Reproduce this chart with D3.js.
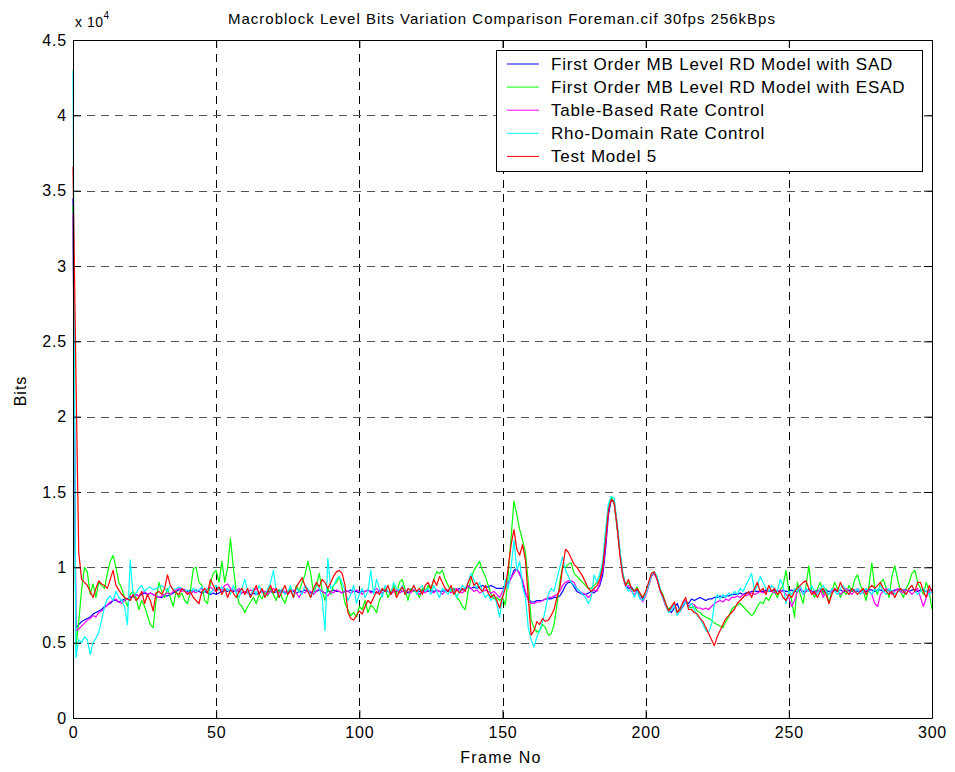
<!DOCTYPE html>
<html>
<head>
<meta charset="utf-8">
<script src="https://cdn.jsdelivr.net/npm/d3@7.9.0/dist/d3.min.js"></script>
<style>
  body { margin: 0; background: #fff; }
  svg { font-family: "Liberation Sans", Arial, sans-serif; }
</style>
</head>
<body>
<svg width="955" height="772"></svg>
<script>
// bits per frame, stored in hundreds of bits (85 = 8500 bits)
const unit = 100;

const sadBits = [
  345, 60, 62, 64, 65, 66, 67, 69, 70, 71,
  72, 74, 75, 76, 78, 78, 77, 78, 79, 79,
  80, 81, 82, 81, 82, 83, 82, 83, 82, 81,
  80, 80, 81, 81, 82, 83, 84, 85, 86, 85,
  84, 85, 84, 85, 84, 83, 84, 83, 82, 83,
  82, 83, 84, 85, 84, 85, 84, 85, 84, 83,
  84, 83, 82, 83, 82, 83, 84, 83, 84, 84,
  83, 84, 85, 84, 83, 84, 85, 84, 83, 84,
  84, 85, 84, 83, 84, 84, 85, 84, 83, 84,
  84, 85, 84, 84, 83, 84, 84, 85, 84, 84,
  83, 84, 84, 85, 84, 84, 83, 84, 85, 84,
  84, 83, 84, 84, 85, 84, 84, 83, 84, 85,
  84, 84, 85, 84, 84, 85, 84, 85, 84, 84,
  85, 84, 85, 86, 85, 86, 85, 86, 87, 86,
  87, 86, 87, 88, 87, 87, 88, 87, 86, 86,
  86, 87, 89, 93, 98, 99, 96, 90, 83, 79,
  77, 77, 78, 78, 78, 79, 79, 79, 80, 80,
  81, 84, 88, 90, 90, 87, 84, 83, 82, 82,
  83, 84, 83, 85, 88, 95, 112, 135, 145, 144,
  128, 110, 95, 88, 86, 87, 84, 85, 82, 79,
  82, 88, 95, 96, 92, 85, 80, 75, 72, 70,
  73, 76, 71, 74, 77, 76, 79, 78, 79, 80,
  79, 78, 79, 79, 80, 80, 81, 80, 81, 81,
  82, 82, 82, 83, 82, 83, 83, 84, 84, 84,
  84, 84, 85, 84, 84, 85, 84, 84, 85, 84,
  84, 85, 84, 84, 85, 84, 84, 85, 84, 84,
  85, 84, 84, 85, 84, 84, 85, 84, 85, 84,
  84, 85, 84, 85, 84, 84, 85, 84, 85, 85,
  84, 85, 85, 84, 85, 85, 84, 85, 85, 84,
  85, 85, 84, 85, 85, 84, 85, 85, 84, 85, 85
];

const esadBits = [
  340, 47, 64, 85, 100, 97, 82, 89, 80, 90,
  88, 86, 96, 104, 108, 100, 90, 86, 80, 74,
  82, 84, 80, 72, 78, 74, 68, 62, 60, 78,
  90, 84, 80, 86, 80, 74, 84, 80, 83, 78,
  76, 84, 99, 100, 90, 88, 78, 76, 90, 96,
  98, 90, 104, 90, 100, 119, 100, 84, 76, 74,
  70, 74, 77, 80, 76, 82, 79, 84, 81, 86,
  82, 78, 85, 80, 76, 82, 86, 80, 88, 84,
  90, 95, 104, 96, 83, 88, 96, 85, 78, 86,
  82, 88, 90, 94, 86, 76, 72, 68, 70, 67,
  74, 72, 78, 70, 75, 73, 70, 78, 82, 86,
  80, 84, 88, 82, 90, 92, 85, 78, 86, 84,
  84, 80, 86, 84, 88, 85, 92, 97, 96, 98,
  92, 88, 84, 86, 80, 78, 74, 72, 84, 92,
  98, 101, 104, 98, 94, 88, 82, 79, 80, 78,
  80, 75, 95, 120, 144, 135, 125, 118, 110, 90,
  65, 60, 57, 58, 62, 60, 55, 56, 62, 75,
  90, 101, 100, 102, 103, 96, 94, 92, 90, 88,
  86, 86, 88, 90, 95, 102, 122, 141, 147, 142,
  126, 110, 96, 88, 90, 86, 84, 87, 82, 80,
  83, 88, 94, 97, 93, 86, 82, 76, 72, 74,
  76, 70, 73, 76, 78, 74, 73, 74, 71, 70,
  68, 67, 66, 65, 63, 62, 61, 60, 64, 67,
  72, 74, 75, 76, 74, 72, 70, 68, 70, 74,
  77, 76, 80, 78, 82, 84, 80, 85, 88, 98,
  84, 78, 67, 90, 82, 76, 88, 101, 84, 80,
  86, 90, 82, 86, 76, 84, 90, 86, 80, 84,
  82, 88, 84, 92, 95, 88, 84, 78, 88, 103,
  86, 82, 90, 92, 86, 80, 94, 101, 92, 84,
  80, 86, 90, 96, 98, 90, 86, 82, 90, 84, 72
];

const tableBits = [
  335, 58, 59, 61, 63, 65, 66, 68, 67, 70,
  71, 73, 75, 77, 78, 79, 77, 76, 78, 79,
  81, 80, 82, 81, 83, 84, 82, 83, 82, 81,
  80, 81, 82, 83, 82, 84, 85, 86, 84, 85,
  83, 82, 84, 83, 85, 86, 84, 86, 87, 85,
  84, 86, 85, 88, 89, 86, 85, 84, 86, 83,
  84, 83, 85, 84, 86, 83, 85, 84, 82, 84,
  86, 84, 83, 85, 84, 82, 84, 85, 83, 80,
  84, 83, 85, 84, 82, 84, 86, 84, 83, 81,
  84, 83, 85, 84, 83, 85, 84, 83, 84, 85,
  84, 82, 84, 85, 83, 84, 86, 84, 83, 85,
  84, 82, 84, 85, 83, 84, 85, 84, 83, 85,
  84, 82, 84, 83, 85, 84, 83, 85, 84, 82,
  84, 85, 83, 84, 86, 84, 83, 85, 88, 86,
  84, 85, 83, 84, 85, 84, 83, 84, 82, 80,
  84, 87, 90, 93, 96, 99, 95, 92, 84, 78,
  76, 76, 77, 77, 78, 79, 80, 80, 81, 82,
  84, 88, 90, 91, 91, 90, 86, 84, 83, 82,
  80, 82, 85, 84, 90, 98, 115, 138, 145, 143,
  128, 110, 95, 87, 88, 84, 82, 84, 80, 77,
  81, 87, 94, 96, 92, 85, 80, 74, 71, 73,
  76, 70, 72, 76, 78, 74, 76, 75, 73, 73,
  72, 73, 72, 74, 76, 77, 78, 77, 79, 78,
  80, 80, 81, 80, 82, 81, 82, 83, 82, 83,
  84, 83, 84, 85, 84, 83, 84, 85, 84, 82,
  80, 74, 78, 84, 86, 82, 84, 86, 84, 82,
  84, 86, 80, 84, 82, 84, 86, 84, 82, 84,
  86, 84, 82, 84, 86, 84, 83, 85, 84, 82,
  76, 74, 82, 84, 86, 84, 82, 84, 86, 84,
  83, 85, 84, 82, 84, 86, 80, 74, 80, 84, 83
];

const rhoBits = [
  430, 40, 52, 50, 54, 52, 42, 50, 53, 57,
  65, 74, 79, 81, 78, 84, 80, 78, 74, 62,
  105, 80, 83, 86, 88, 84, 86, 87, 85, 86,
  87, 88, 86, 84, 88, 85, 86, 87, 86, 84,
  85, 83, 86, 84, 85, 87, 84, 86, 83, 85,
  88, 85, 87, 84, 86, 82, 88, 83, 80, 86,
  92, 84, 80, 86, 82, 88, 84, 80, 86, 90,
  98, 84, 80, 86, 82, 84, 88, 80, 86, 84,
  82, 88, 86, 80, 84, 90, 86, 80, 58, 106,
  86, 88, 92, 94, 90, 84, 78, 82, 88, 76,
  82, 86, 80, 84, 98, 82, 92, 86, 80, 88,
  84, 82, 90, 86, 84, 88, 82, 86, 84, 88,
  82, 86, 88, 84, 86, 82, 88, 84, 80, 86,
  84, 82, 86, 84, 80, 84, 88, 86, 90, 96,
  92, 86, 90, 84, 80, 82, 78, 82, 76, 67,
  80, 92, 86, 100, 118, 98, 104, 87, 80, 60,
  52, 47, 54, 58, 64, 72, 82, 86, 84, 92,
  100, 107, 98, 94, 90, 88, 86, 84, 82, 80,
  76, 80, 95, 90, 96, 104, 125, 142, 147, 146,
  130, 112, 96, 88, 84, 86, 80, 84, 79, 78,
  82, 88, 95, 97, 94, 86, 80, 75, 70, 72,
  75, 68, 71, 75, 77, 73, 76, 72, 68, 66,
  62, 58, 57, 62, 76, 82, 79, 82, 80, 83,
  81, 84, 82, 86, 84, 88, 92, 96, 84, 88,
  94, 90, 86, 84, 88, 86, 84, 92, 88, 76,
  84, 82, 86, 84, 88, 82, 86, 84, 88, 84,
  82, 86, 88, 84, 82, 86, 84, 82, 86, 88,
  84, 82, 86, 84, 86, 82, 84, 86, 84, 82,
  86, 84, 88, 84, 82, 86, 84, 82, 84, 86,
  84, 82, 86, 88, 84, 82, 84, 86, 84, 82, 84
];

const tm5Bits = [
  366, 230, 110, 92, 90, 88, 84, 80, 86, 91,
  89, 88, 86, 92, 98, 88, 85, 82, 80, 79,
  78, 82, 78, 80, 84, 76, 82, 78, 71, 83,
  84, 82, 86, 95, 88, 85, 83, 82, 86, 84,
  82, 84, 80, 78, 76, 84, 86, 83, 92, 88,
  84, 87, 82, 86, 80, 85, 83, 80, 84, 86,
  82, 86, 80, 84, 88, 82, 86, 80, 84, 88,
  83, 86, 80, 84, 88, 82, 85, 80, 87, 90,
  93, 88, 84, 80, 86, 90, 87, 92, 90, 86,
  90, 94, 97, 98, 96, 88, 70, 66, 65, 68,
  71, 69, 74, 78, 76, 80, 84, 82, 86, 84,
  88, 82, 86, 80, 84, 87, 82, 86, 84, 88,
  84, 86, 82, 88, 90, 86, 92, 88, 94, 90,
  86, 84, 88, 82, 85, 83, 86, 84, 90, 94,
  88, 90, 86, 84, 88, 83, 80, 82, 78, 73,
  80, 86, 100, 115, 125, 112, 108, 115, 105, 80,
  55, 58, 64, 62, 66, 64, 65, 68, 72, 80,
  86, 100, 112, 110, 106, 102, 100, 97, 94, 90,
  86, 84, 86, 88, 92, 100, 118, 138, 145, 143,
  128, 108, 94, 88, 92, 86, 84, 86, 83, 80,
  84, 90, 96, 97, 92, 85, 81, 76, 71, 74,
  77, 70, 72, 77, 80, 72, 72, 70, 69, 66,
  64, 60, 56, 52, 48, 54, 58, 62, 66, 68,
  70, 72, 76, 78, 80, 82, 84, 80, 86, 90,
  84, 86, 82, 88, 84, 86, 82, 84, 80, 78,
  82, 80, 84, 86, 88, 90, 91, 86, 82, 84,
  80, 84, 86, 82, 76, 82, 86, 84, 90, 86,
  84, 82, 86, 84, 82, 84, 86, 82, 86, 88,
  86, 88, 90, 86, 84, 82, 84, 80, 84, 86,
  84, 82, 86, 88, 84, 90, 90, 84, 80, 88, 84
];

const seriesNames = [
  'First Order MB Level RD Model with SAD',
  'First Order MB Level RD Model with ESAD',
  'Table-Based Rate Control',
  'Rho-Domain Rate Control',
  'Test Model 5'
];
const seriesColors = ['#0000ff', '#00ff00', '#ff00ff', '#00ffff', '#ff0000'];
const seriesData = [sadBits, esadBits, tableBits, rhoBits, tm5Bits];

const xTicks = [0, 50, 100, 150, 200, 250, 300];
const yTicks = [0, 5000, 10000, 15000, 20000, 25000, 30000, 35000, 40000, 45000];

const plotLeft = 73, plotRight = 932, plotTop = 40, plotBottom = 718;

let svg = d3.select('svg');
let x = d3.scaleLinear().domain([0, 300]).range([plotLeft, plotRight]);
let y = d3.scaleLinear().domain([0, 45000]).range([plotBottom, plotTop]);

// grid
let grid = svg.append('g')
  .attr('stroke', '#000')
  .attr('stroke-width', 1)
  .attr('stroke-dasharray', '8,6');
xTicks.slice(1, -1).forEach((t) => {
  grid.append('line')
    .attr('x1', Math.round(x(t)) + 0.5).attr('x2', Math.round(x(t)) + 0.5)
    .attr('y1', plotTop).attr('y2', plotBottom);
});
yTicks.slice(1, -1).forEach((t) => {
  grid.append('line')
    .attr('x1', plotLeft).attr('x2', plotRight)
    .attr('y1', Math.round(y(t)) + 0.5).attr('y2', Math.round(y(t)) + 0.5)
    .attr('stroke', '#555');
});

// lines
let line = d3.line()
  .x((d, i) => x(i))
  .y((d) => y(d * unit));

seriesData.forEach((vals, i) => {
  svg.append('path')
    .datum(vals)
    .attr('d', line)
    .attr('fill', 'none')
    .attr('stroke', seriesColors[i])
    .attr('stroke-width', 1.2)
    .attr('stroke-linejoin', 'round');
});

// axes, ticks pointing inward on all sides
let fmtY = (d) => String(d / 10000);
let axisStyle = (g) => {
  g.selectAll('.domain').attr('stroke', '#000');
  g.selectAll('.tick line').attr('stroke', '#000');
  g.selectAll('text').attr('fill', '#000')
    .style('font-size', '16px')
    .style('letter-spacing', '0.8px')
    .style('font-family', '"Liberation Sans", Arial, sans-serif');
};

svg.append('g')
  .attr('transform', `translate(0,${plotBottom})`)
  .call(d3.axisBottom(x).tickValues(xTicks).tickSize(-8).tickSizeOuter(0).tickPadding(9))
  .call(axisStyle);
svg.append('g')
  .attr('transform', `translate(0,${plotTop})`)
  .call(d3.axisTop(x).tickValues(xTicks).tickSize(-8).tickSizeOuter(0).tickFormat(''))
  .call(axisStyle);
svg.append('g')
  .attr('transform', `translate(${plotLeft},0)`)
  .call(d3.axisLeft(y).tickValues(yTicks).tickSize(-8).tickSizeOuter(0).tickPadding(6).tickFormat(fmtY))
  .call(axisStyle);
svg.append('g')
  .attr('transform', `translate(${plotRight},0)`)
  .call(d3.axisRight(y).tickValues(yTicks).tickSize(-8).tickSizeOuter(0).tickFormat(''))
  .call(axisStyle);

// texts
svg.append('text')
  .attr('x', 502).attr('y', 24)
  .attr('text-anchor', 'middle')
  .style('font-size', '15px')
  .style('letter-spacing', '1px')
  .text('Macroblock Level Bits Variation Comparison Foreman.cif 30fps 256kBps');

let expo = svg.append('text').attr('x', 75).attr('y', 27)
  .style('font-size', '14px').style('letter-spacing', '0.5px');
expo.append('tspan').text('x 10');
expo.append('tspan').attr('dy', -8).style('font-size', '10px').text('4');

svg.append('text')
  .attr('x', 501).attr('y', 763)
  .attr('text-anchor', 'middle')
  .style('font-size', '16px')
  .style('letter-spacing', '1.3px')
  .text('Frame No');

svg.append('text')
  .attr('transform', 'translate(26,391) rotate(-90)')
  .attr('text-anchor', 'middle')
  .style('font-size', '16px')
  .style('letter-spacing', '1px')
  .text('Bits');

// legend
let legend = svg.append('g');
legend.append('rect')
  .attr('x', 496.5).attr('y', 50.5)
  .attr('width', 426).attr('height', 121)
  .attr('fill', '#fff').attr('stroke', '#000');
seriesNames.forEach((name, i) => {
  let cy = 64 + i * 23.1;
  legend.append('line')
    .attr('x1', 507).attr('x2', 539)
    .attr('y1', cy).attr('y2', cy)
    .attr('stroke', seriesColors[i]);
  legend.append('text')
    .attr('x', 551).attr('y', cy + 6)
    .style('font-size', '17px')
    .style('letter-spacing', '0.8px')
    .text(name);
});
</script>
</body>
</html>
